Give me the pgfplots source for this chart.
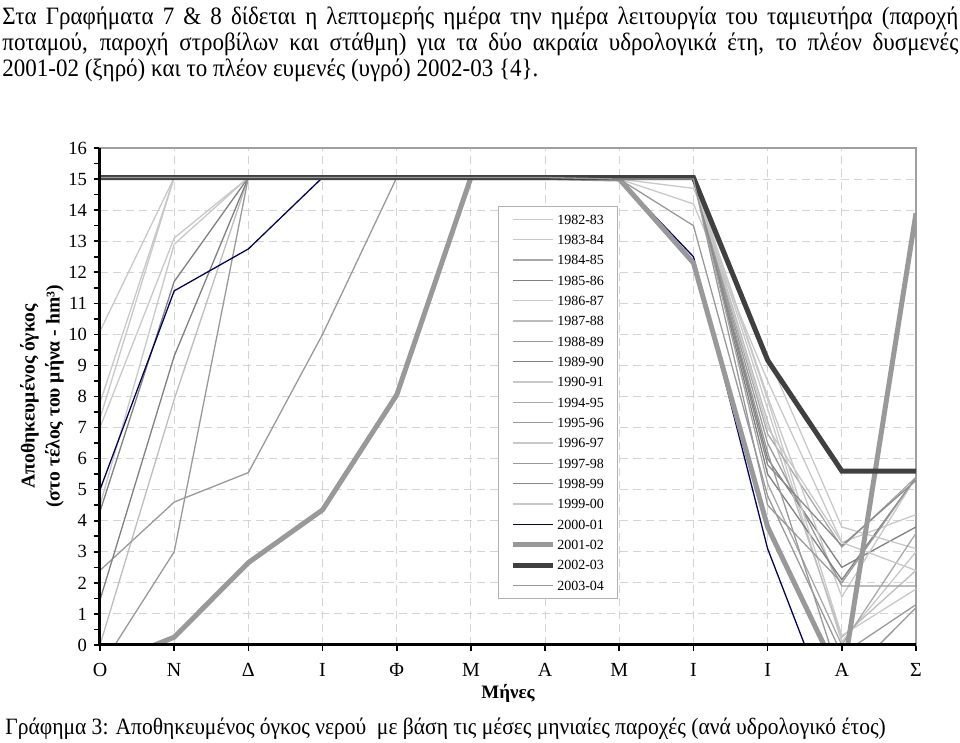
\documentclass[border=0pt]{standalone}
\usepackage{fontspec}
\setmainfont{Liberation Serif}
\newfontfamily\parafont{Liberation Serif}[FakeStretch=0.92]
\usepackage{pgfplots}
\pgfplotsset{compat=1.18}
\definecolor{lg}{HTML}{C8C8C8}
\definecolor{lgb}{HTML}{BDBDBD}
\definecolor{mg}{HTML}{A8A8A8}
\definecolor{mgb}{HTML}{999999}
\definecolor{dg}{HTML}{808080}
\definecolor{dgb}{HTML}{8A8A8A}
\definecolor{navy}{HTML}{000066}
\definecolor{vdg}{HTML}{404040}
\definecolor{gridc}{HTML}{D4D4D4}
\begin{document}
\begin{tikzpicture}
\useasboundingbox (-50pt,-49pt) rectangle (430pt,322.5pt);
\begin{axis}[
  at={(0,0)}, anchor=south west,
  scale only axis, width=408pt, height=248.5pt,
  xmin=0, xmax=11, ymin=0, ymax=16,
  xtick={0,...,11},
  xticklabels={Ο,Ν,Δ,Ι,Φ,Μ,Α,Μ,Ι,Ι,Α,Σ},
  ytick={0,...,16},
  minor y tick num=1,
  tick align=outside, xtick pos=bottom, ytick pos=left,
  major tick length=3pt, minor tick length=3pt,
  tick style={black, line width=0.8pt},
  grid=major,
  grid style={gridc, line width=0.5pt, dash pattern=on 4pt off 2.5pt},
  axis line style={draw=gray!75, line width=0.6pt},
  /pgf/number format/assume math mode=true,
  yticklabel style={font=\fontsize{9.3}{10}\selectfont},
  xticklabel style={font=\fontsize{10}{10}\selectfont, yshift=-2.5pt},
  xlabel={Μήνες},
  xlabel style={font=\bfseries\fontsize{9.5}{11}\selectfont, at={(axis description cs:0.5,-0.0985)}, anchor=center},
  ylabel={Αποθηκευμένος όγκος\\(στο τέλος του μήνα - hm³)},
  ylabel style={font=\bfseries\fontsize{9.8}{12.5}\selectfont, align=center, at={(axis description cs:-0.0711,0.5)}, anchor=center},
  legend style={at={(rel axis cs:0.488,0.883)}, anchor=north west, draw=gray!60, line width=0.5pt, fill=white,
    font=\fontsize{7}{7}\selectfont, row sep=2.47pt, inner xsep=5.8pt, inner ysep=2.5pt,
    nodes={inner sep=1pt, text height=5.2pt, text depth=0.5pt}},
  legend cell align=left,
  legend image code/.code={\draw[#1] (0pt,0pt) -- (20pt,0pt);},
]
\addplot[lg, line width=0.65pt] coordinates {(0,15.05)(1,15.05)(2,15.05)(3,15.05)(4,15.05)(5,15.05)(6,15.05)(7,15.0)(8,15.0)(9,7.6)(10,0.1)(11,3.0)};
\addplot[lg, line width=0.65pt] coordinates {(0,10.1)(1,15.05)(2,15.05)(3,15.05)(4,15.05)(5,15.05)(6,15.05)(7,15.0)(8,14.2)(9,8.5)(10,3.3)(11,4.2)};
\addplot[mg, line width=0.65pt] coordinates {(0,15.05)(1,15.05)(2,15.05)(3,15.05)(4,15.05)(5,15.05)(6,15.05)(7,15.0)(8,15.0)(9,6.8)(10,3.15)(11,5.4)};
\addplot[dg, line width=0.65pt] coordinates {(0,4.3)(1,11.7)(2,15.05)(3,15.05)(4,15.05)(5,15.05)(6,15.05)(7,15.0)(8,15.0)(9,6.0)(10,2.5)(11,3.8)};
\addplot[lg, line width=0.65pt] coordinates {(0,4.5)(1,12.9)(2,15.05)(3,15.05)(4,15.05)(5,15.05)(6,15.05)(7,15.0)(8,15.0)(9,8.0)(10,1.55)(11,5.4)};
\addplot[lgb, line width=0.65pt] coordinates {(0,0.0)(1,7.9)(2,15.05)(3,15.05)(4,15.05)(5,15.05)(6,15.05)(7,15.0)(8,15.0)(9,7.2)(10,0.25)(11,2.4)};
\addplot[mgb, line width=0.65pt] coordinates {(0,2.4)(1,4.6)(2,5.55)(3,10.0)(4,15.05)(5,15.05)(6,15.05)(7,15.0)(8,15.0)(9,6.5)(10,1.9)(11,1.9)};
\addplot[dg, line width=0.65pt] coordinates {(0,1.45)(1,9.3)(2,15.05)(3,15.05)(4,15.05)(5,15.05)(6,15.05)(7,15.0)(8,15.0)(9,5.5)(10,2.1)(11,5.4)};
\addplot[lg, line width=0.65pt] coordinates {(0,7.8)(1,15.05)(2,15.05)(3,15.05)(4,15.05)(5,15.05)(6,15.05)(7,15.0)(8,14.7)(9,9.3)(10,3.8)(11,3.1)};
\addplot[mg, line width=0.65pt] coordinates {(0,15.05)(1,15.05)(2,15.05)(3,15.05)(4,15.05)(5,15.05)(6,15.05)(7,15.0)(8,15.0)(9,5.2)(10,0.0)(11,3.6)};
\addplot[mgb, line width=0.65pt] coordinates {(0,15.05)(1,15.05)(2,15.05)(3,15.05)(4,15.05)(5,15.05)(6,15.05)(7,15.0)(8,13.5)(9,4.8)(10,-0.3)(11,1.3)};
\addplot[lg, line width=0.65pt] coordinates {(0,7.3)(1,15.05)(2,15.05)(3,15.05)(4,15.05)(5,15.05)(6,15.05)(7,15.0)(8,15.0)(9,7.9)(10,0.3)(11,1.8)};
\addplot[mgb, line width=0.65pt] coordinates {(0,-0.75)(1,3.0)(2,15.05)(3,15.05)(4,15.05)(5,15.05)(6,15.05)(7,15.0)(8,15.0)(9,6.2)(10,-1.2)(11,1.2)};
\addplot[dgb, line width=0.65pt] coordinates {(0,15.05)(1,15.05)(2,15.05)(3,15.05)(4,15.05)(5,15.05)(6,15.05)(7,15.0)(8,15.0)(9,5.8)(10,3.2)(11,5.3)};
\addplot[lg, line width=0.65pt] coordinates {(0,7.0)(1,13.1)(2,15.05)(3,15.05)(4,15.05)(5,15.05)(6,15.05)(7,15.0)(8,15.0)(9,7.0)(10,3.3)(11,2.4)};
\addplot[navy, line width=0.65pt] coordinates {(0,5.0)(1,11.4)(2,12.75)(3,15.05)(4,15.05)(5,15.05)(6,15.05)(7,15.0)(8,12.5)(9,3.1)(10,-3.1)(11,-2.0)};
\addplot[mgb, line width=2.5pt] coordinates {(0,-0.7)(1,0.25)(2,2.65)(3,4.35)(4,8.05)(5,15.05)(6,15.05)(7,15.0)(8,12.3)(9,3.8)(10,-1.2)(11,13.9)};
\addplot[vdg, line width=2.5pt] coordinates {(0,15.05)(1,15.05)(2,15.05)(3,15.05)(4,15.05)(5,15.05)(6,15.05)(7,15.05)(8,15.05)(9,9.17)(10,5.6)(11,5.6)};
\addplot[mgb, line width=0.65pt] coordinates {(0,15.05)(1,15.05)(2,15.05)(3,15.05)(4,15.05)(5,15.05)(6,15.05)(7,15.0)(8,15.0)(9,4.5)(10,2.0)(11,5.4)};
\legend{1982-83,1983-84,1984-85,1985-86,1986-87,1987-88,1988-89,1989-90,1990-91,1994-95,1995-96,1996-97,1997-98,1998-99,1999-00,2000-01,2001-02,2002-03,2003-04}
\end{axis}
\draw[black, line width=1.5pt] (0,248.5pt) -- (0,0) -- (408pt,0);
\begin{scope}[every node/.style={anchor=base west, inner sep=0pt, font=\parafont\fontsize{12.5}{13}\selectfont}]
\node at (-49pt,310pt) {\makebox[478pt][s]{Στα Γραφήματα 7 \& 8 δίδεται η λεπτομερής ημέρα την ημέρα λειτουργία του ταμιευτήρα (παροχή}};
\node at (-49pt,297pt) {\makebox[478pt][s]{ποταμού, παροχή στροβίλων και στάθμη) για τα δύο ακραία υδρολογικά έτη, το πλέον δυσμενές}};
\node at (-49pt,284pt) {2001-02 (ξηρό) και το πλέον ευμενές (υγρό) 2002-03 \{4\}.};
\node[font=\parafont\fontsize{11.7}{13}\selectfont] at (-47.5pt,-45pt) {Γράφημα 3: Αποθηκευμένος όγκος νερού~ με βάση τις μέσες μηνιαίες παροχές (ανά υδρολογικό έτος)};
\end{scope}
\end{tikzpicture}
\end{document}
